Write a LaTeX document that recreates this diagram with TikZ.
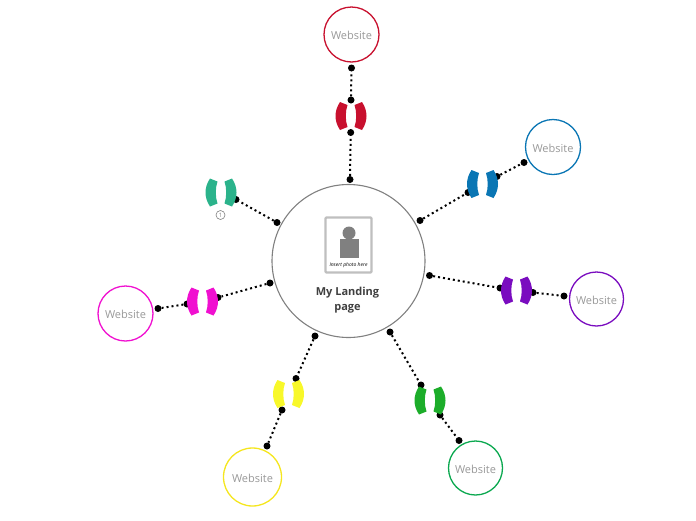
\documentclass[tikz,border=0pt]{standalone}
\usepackage{fontspec}
\setmainfont{Open Sans}
\usepackage{tikz}
\definecolor{redc}{HTML}{C8102E}
\definecolor{bluec}{HTML}{0A76B4}
\definecolor{purplec}{HTML}{7A0CBF}
\definecolor{greenc}{HTML}{1CAD2A}
\definecolor{sitegreenc}{HTML}{0AA84F}
\definecolor{yellowc}{HTML}{F8F82A}
\definecolor{siteyellowc}{HTML}{F5E61E}
\definecolor{magentac}{HTML}{F010D0}
\definecolor{tealc}{HTML}{2BB38B}
\newcommand{\lobes}[2]{%
  \fill[#1,shift={(#2)}] (-11,-14) -- (-3.5,-11) .. controls (-5.8,-4) and (-5.8,4) .. (-3.5,11) -- (-11,14) .. controls (-17,5) and (-17,-5) .. cycle;
  \fill[#1,shift={(#2)}] (11,-14) -- (3.5,-11) .. controls (5.8,-4) and (5.8,4) .. (3.5,11) -- (11,14) .. controls (17,5) and (17,-5) .. cycle;
}
\begin{document}
\begin{tikzpicture}[x=1pt,y=-1pt,
  site/.style={circle,draw,line width=1.3pt,fill=white,inner sep=0pt,text=gray!80,text height=10pt,text depth=0pt,font=\fontsize{11}{13}\selectfont},
  pin/.style={circle,fill=black,inner sep=0pt,minimum size=7pt},
  spoke/.style={line width=2pt,dash pattern=on 2pt off 3pt}]
  \useasboundingbox (0,0) rectangle (696,520);
  % central circle and its photo
  \node[circle,draw=gray,line width=1.1pt,fill=white,inner sep=0pt,minimum size=153pt] (hub) at (348.5,261) {};
  \node[draw=gray!50,line width=2.4pt,rounded corners=1pt,fill=white,inner sep=0pt,minimum width=46pt,minimum height=55pt] (photo) at (348.5,245) {};
  \node[rectangle,fill=gray,inner sep=0pt,minimum width=19pt,minimum height=19pt] (body) at (349.5,248.5) {};
  \node[circle,fill=gray,inner sep=0pt,minimum size=13pt] (head) at (349,233) {};
  \node[font=\fontsize{5}{6}\selectfont\itshape,inner sep=0pt] (phototext) at (348.5,265) {Insert photo here};
  \node[align=center,text=black!75,font=\fontsize{11}{15}\selectfont\bfseries,inner sep=0pt] (title) at (347.5,300.5) {My Landing\\page};
  % website circles
  \node[site,draw=redc,minimum size=55pt] (redsite) at (351.5,34.5) {Website};
  \node[site,draw=bluec,minimum size=55pt] (bluesite) at (553,147) {Website};
  \node[site,draw=purplec,minimum size=54pt] (purplesite) at (596.5,299) {Website};
  \node[site,draw=sitegreenc,minimum size=54pt] (greensite) at (475.5,468) {Website};
  \node[site,draw=siteyellowc,minimum size=58pt] (yellowsite) at (252.5,477) {Website};
  \node[site,draw=magentac,minimum size=55pt] (magentasite) at (125.5,313.5) {Website};
  % pins on the spokes
  \node[pin] (reda) at (350,179.5) {};
  \node[pin] (redb) at (350.7,132.5) {};
  \node[pin] (redc') at (351,100) {};
  \node[pin] (redd) at (351.5,68) {};
  \node[pin] (bluea) at (420,220.5) {};
  \node[pin] (blueb) at (468,192.5) {};
  \node[pin] (bluec') at (497,176.5) {};
  \node[pin] (blued) at (524,162.5) {};
  \node[pin] (purplea) at (429.5,275.5) {};
  \node[pin] (purpleb) at (500,288) {};
  \node[pin] (purplec') at (533,292.5) {};
  \node[pin] (purpled) at (564,296) {};
  \node[pin] (greena) at (390,332) {};
  \node[pin] (greenb) at (421,385) {};
  \node[pin] (greenc') at (440,415) {};
  \node[pin] (greend) at (459,440.5) {};
  \node[pin] (yellowa) at (315,336) {};
  \node[pin] (yellowb) at (296,378.5) {};
  \node[pin] (yellowc') at (282,410) {};
  \node[pin] (yellowd) at (267,446) {};
  \node[pin] (magentaa) at (270,283) {};
  \node[pin] (magentab) at (218,297.5) {};
  \node[pin] (magentac') at (187,304) {};
  \node[pin] (magentad) at (158,308.5) {};
  \node[pin] (teala) at (277,222.5) {};
  \node[pin] (tealb) at (236,199.5) {};
  % dotted spokes
  \draw[spoke] (reda) -- (redb);
  \draw[spoke] (redc') -- (redd);
  \draw[spoke] (bluea) -- (blueb);
  \draw[spoke] (bluec') -- (blued);
  \draw[spoke] (purplea) -- (purpleb);
  \draw[spoke] (purplec') -- (purpled);
  \draw[spoke] (greena) -- (greenb);
  \draw[spoke] (greenc') -- (greend);
  \draw[spoke] (yellowa) -- (yellowb);
  \draw[spoke] (yellowc') -- (yellowd);
  \draw[spoke] (magentaa) -- (magentab);
  \draw[spoke] (magentac') -- (magentad);
  \draw[spoke] (teala) -- (tealb);
  % lobes over the pins
  \lobes{redc}{351,116}
  \lobes{bluec}{482.5,184}
  \lobes{purplec}{516.5,290.5}
  \lobes{greenc}{430,400.5}
  \lobes{yellowc}{288.5,394}
  \lobes{magentac}{202.5,301.5}
  \lobes{tealc}{221,192.5}
  % numbered badge
  \node[circle,draw=gray,line width=0.6pt,fill=white,inner sep=0pt,minimum size=9pt,text=gray,font=\fontsize{6}{6}\selectfont] (badge) at (220.5,215) {1};
\end{tikzpicture}
\end{document}
